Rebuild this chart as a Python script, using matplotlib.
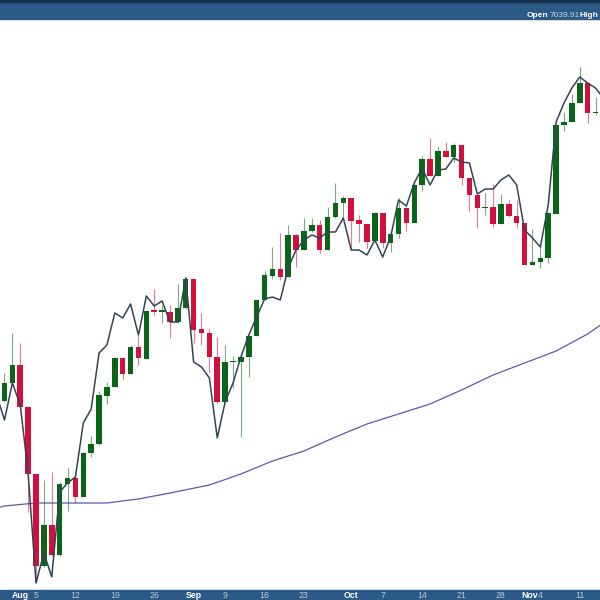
import pandas as pd
import matplotlib
matplotlib.use('Agg')
from matplotlib import pyplot as plt
from matplotlib.patches import Rectangle
from matplotlib.transforms import blended_transform_factory, offset_copy

# trading days shown (Labor Day is a market holiday)
dates = pd.bdate_range('2024-07-29', '2024-11-14').drop(pd.Timestamp('2024-09-02'))

# price levels (no axis scale is shown)
opens = [205, 199, 217, 235, 193, 126, 34, 75, 45, 116, 122, 103, 147, 156, 204, 213,
         242, 226, 253, 241, 290, 288, 288, 278, 292, 321, 271, 267, 243, 198, 238, 238,
         243, 264, 300, 324, 331, 323, 365, 350, 369, 375, 350, 383, 397, 402, 380, 376, 359,
         387, 357, 366, 392, 377, 415, 441, 424, 449, 443, 455, 422, 405, 392, 393, 376,
         396, 384, 377, 335, 338, 342, 386, 475, 478, 497, 517, 487, 488]
highs = [215, 227, 267, 257, 194, 126, 120, 128, 118, 132, 123, 148, 164, 209, 218, 243,
         243, 255, 265, 290, 311, 295, 295, 316, 323, 321, 287, 272, 263, 255, 244, 246,
         265, 300, 329, 353, 367, 375, 366, 382, 382, 380, 393, 417, 404, 402, 385, 376,
         388, 387, 367, 402, 393, 418, 444, 462, 454, 458, 457, 455, 422, 405, 407, 416,
         406, 400, 400, 377, 371, 357, 388, 475, 488, 506, 533, 517, 503, 500]
lows = [195, 198, 216, 192, 88, 22, 33, 44, 44, 89, 97, 103, 143, 155, 196, 213,
        221, 226, 235, 241, 285, 277, 262, 277, 291, 257, 255, 227, 196, 197, 212, 163,
        223, 264, 300, 321, 320, 323, 333, 350, 368, 347, 350, 382, 383, 350, 358, 352,
        359, 352, 348, 362, 369, 377, 409, 424, 424, 443, 437, 415, 389, 372, 385, 373,
        376, 383, 372, 335, 335, 332, 337, 386, 469, 478, 497, 477, 485, 480]
closes = [203, 217, 235, 193, 126, 34, 75, 45, 116, 122, 103, 147, 156, 205, 213, 242,
          226, 253, 242, 289, 288, 290, 278, 292, 321, 270, 267, 243, 198, 238, 239, 243,
          264, 300, 325, 331, 323, 365, 350, 369, 375, 350, 383, 397, 402, 379, 376, 358,
          387, 357, 366, 392, 377, 415, 441, 424, 449, 443, 455, 422, 405, 392, 393, 376,
          396, 384, 377, 335, 338, 342, 387, 475, 478, 497, 517, 487, 488, 495]
# comparison series drawn as a line
compare = [205, 180, 217, 195, 127, 17, 47, 23, 108, 117, 123, 177, 191, 247, 255, 287,
           282, 296, 265, 304, 294, 299, 278, 278, 322, 238, 233, 222, 162, 198, 217, 243,
           265, 283, 301, 303, 300, 332, 350, 360, 365, 362, 368, 368, 382, 350, 350, 345,
           360, 343, 363, 400, 394, 417, 432, 415, 430, 431, 442, 438, 437, 406, 411, 411,
           420, 425, 415, 370, 362, 353, 395, 478, 497, 512, 523, 517, 512, 502]
# long moving average, sampled
ma_days = ['2024-07-29', '2024-07-30', '2024-08-05', '2024-08-12', '2024-08-16', '2024-08-22',
           '2024-08-28', '2024-09-05', '2024-09-11', '2024-09-17', '2024-09-23', '2024-09-27',
           '2024-10-03', '2024-10-09', '2024-10-15', '2024-10-21', '2024-10-25', '2024-10-31',
           '2024-11-06', '2024-11-12', '2024-11-14']
ma_values = [92, 94, 97, 97, 97, 101, 107, 115, 126, 139, 149, 163, 176, 186, 196, 210,
             225, 237, 249, 266, 277]

tick_days = ['2024-08-01', '2024-08-05', '2024-08-12', '2024-08-19', '2024-08-26', '2024-09-03',
             '2024-09-09', '2024-09-16', '2024-09-23', '2024-10-01', '2024-10-07', '2024-10-14',
             '2024-10-21', '2024-10-28', '2024-11-01', '2024-11-04', '2024-11-11']
tick_labels = ['Aug', '5', '12', '19', '26', 'Sep', '9', '16', '23', 'Oct', '7', '14',
               '21', '28', 'Nov', '4', '11']

GREEN = '#0a6616'
RED = '#d30f3f'
BAR = '#2a5a85'

pos = {d: i for i, d in enumerate(dates)}
x = list(range(len(dates)))

fig = plt.figure(figsize=(6, 6), dpi=100)
ax = fig.add_axes([0, 0, 1, 1])
ax.axis('off')

for i in x:
    o, h, l, c = opens[i], highs[i], lows[i], closes[i]
    col = GREEN if c >= o else RED
    ax.vlines(i, l, h, color=col, lw=0.8, alpha=0.55, zorder=2)
    body = max(abs(c - o), 1.2)
    ax.bar(i, body, bottom=min(o, c), width=0.7, color=col, lw=0, zorder=3)

ax.plot(x, compare, color='#334455', lw=1.1, zorder=4)
ma_x = [pos[pd.Timestamp(d)] for d in ma_days]
ax.plot(ma_x, ma_values, color='#5a5aa8', lw=0.9, zorder=1)

ax.set_xlim(0.43, 76.57)
ax.set_ylim(0, 600)

# header and footer strips
ax.add_patch(Rectangle((0, 1 - 19 / 600), 1, 19 / 600, transform=ax.transAxes,
                       color=BAR, zorder=10, clip_on=False))
ax.add_patch(Rectangle((0, 1 - 2 / 600), 1, 2 / 600, transform=ax.transAxes,
                       color='#163350', zorder=11, clip_on=False))
ax.add_patch(Rectangle((0, 0), 1, 10 / 600, transform=ax.transAxes,
                       color=BAR, zorder=10, clip_on=False))

hy = 1 - 17 / 600
ax.text(527 / 600, hy, 'Open', transform=ax.transAxes, color='white', fontsize=6,
        fontweight='bold', family='Liberation Sans', va='baseline', zorder=12)
ax.text(550 / 600, hy, '7039.91', transform=ax.transAxes, color='#c9d6e3', fontsize=6,
        family='Liberation Sans', va='baseline', zorder=12)
ax.text(580 / 600, hy, 'High', transform=ax.transAxes, color='white', fontsize=6,
        fontweight='bold', family='Liberation Sans', va='baseline', zorder=12)

trans = blended_transform_factory(ax.transData, ax.transAxes)
for d, lab in zip(tick_days, tick_labels):
    month = lab.isalpha()
    t = trans
    if lab == 'Nov':
        # sits right next to the "4" of Nov 4
        t = offset_copy(trans, fig=fig, x=-2.5, units='dots')
    ax.text(pos[pd.Timestamp(d)], 5 / 600, lab, transform=t, ha='center', va='center',
            fontsize=6.3, family='Liberation Sans', fontweight='bold' if month else 'normal',
            color='white' if month else '#b9c9d9', zorder=12)

fig.savefig('out.png', dpi=100)
